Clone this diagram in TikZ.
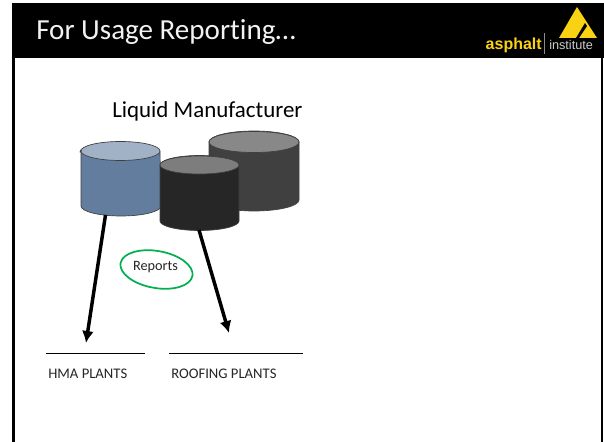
\documentclass[tikz,border=0pt]{standalone}
\usepackage{fontspec}
\setmainfont[Ligatures=NoCommon]{Carlito}
\newfontfamily\logofont{Liberation Sans}
\usetikzlibrary{arrows.meta}
\definecolor{steel}{RGB}{98,125,158}
\definecolor{steeltop}{RGB}{161,177,198}
\definecolor{midgrey}{RGB}{64,64,64}
\definecolor{midtop}{RGB}{136,136,136}
\definecolor{darkgrey}{RGB}{38,38,38}
\definecolor{darktop}{RGB}{125,125,125}
\definecolor{asphaltyellow}{RGB}{250,210,20}
\definecolor{ovalgreen}{RGB}{0,176,80}
\tikzset{
  x=0.75pt,y=-0.75pt,
  flow/.style={line width=2.6pt,-{Latex[length=9pt,width=9pt]}},
  baseline rule/.style={line width=0.8pt},
  plantlabel/.style={font=\fontsize{11pt}{13pt}\selectfont,anchor=west,text=black!85,inner sep=0pt},
  drum/.style={draw=black!75,line width=0.5pt}
}
\begin{document}
\begin{tikzpicture}
\useasboundingbox (0,0) rectangle (604,442);
\fill[white] (0,0) rectangle (604,442);
% slide frame
\fill[black] (12,3) rectangle (604,58);
\fill[black] (12,58) rectangle (14.5,442);
\fill[black] (601,58) rectangle (603.3,442);
\node[anchor=west,text=white!95!black,inner sep=0pt,font=\fontsize{21.8pt}{25pt}\selectfont] (title) at (36,32.5) {For Usage Reporting…};
% logo
\fill[asphaltyellow] (577,7) -- (597,38) -- (559,38) -- cycle;
\fill[black] (585,23) -- (576,38) -- (579,38) -- (587,26) -- cycle;
\node[anchor=base east,text=asphaltyellow,inner sep=0pt,font=\logofont\fontsize{12pt}{14pt}\selectfont\bfseries] (logoa) at (542,50) {asphalt};
\draw[white!55!black,line width=0.5pt] (544,33) -- (544,54);
\node[anchor=base west,text=white!80!black,inner sep=0pt,font=\logofont\fontsize{9.5pt}{11pt}\selectfont] (logob) at (549,50) {institute};
% heading
\node[anchor=west,inner sep=0pt,font=\fontsize{17.2pt}{20pt}\selectfont] (head) at (112,111.5) {Liquid Manufacturer};
% back grey drum
\path[fill=midgrey,drum] (209,142) -- (209,200) arc[start angle=180,end angle=360,x radius=45,y radius=-11] -- (299,142) arc[start angle=0,end angle=180,x radius=45,y radius=-11] -- cycle;
\path[fill=midtop,drum] (254,142) ellipse[x radius=45,y radius=10.5];
% blue drum
\path[fill=steel,drum] (81,152) -- (81,206) arc[start angle=180,end angle=360,x radius=40,y radius=-10] -- (160,152) arc[start angle=0,end angle=180,x radius=40,y radius=-10] -- cycle;
\path[fill=steeltop,drum] (120.5,151) ellipse[x radius=39.5,y radius=9.5];
% black drum
\path[fill=darkgrey,drum] (160,165) -- (160,221) arc[start angle=180,end angle=360,x radius=39.5,y radius=-9.5] -- (239,165) arc[start angle=0,end angle=180,x radius=39.5,y radius=-9.5] -- cycle;
\path[fill=darktop,drum] (199.5,165) ellipse[x radius=39.5,y radius=9];
% named anchors of the connectors
\coordinate (blue) at (105.5,215);
\coordinate (dark) at (199,230);
\coordinate (hma) at (86,343);
\coordinate (roof) at (229,333);
\draw[flow] (blue) -- (hma);
\draw[flow] (dark) -- (roof);
% reports oval
\draw[ovalgreen,line width=1.3pt,rotate around={-10:(156.5,269.5)}] (156.5,269.5) ellipse[x radius=36.5,y radius=18.5];
\node[inner sep=0pt,font=\fontsize{10.7pt}{13pt}\selectfont,text=black!85] (reports) at (155.5,267.5) {Reports};
% plants
\draw[baseline rule] (46,353.5) -- (145,353.5);
\draw[baseline rule] (169,353.5) -- (303,353.5);
\node[plantlabel] (l1) at (48,374) {HMA PLANTS};
\node[plantlabel] (l2) at (171,374) {ROOFING PLANTS};
\end{tikzpicture}
\end{document}
